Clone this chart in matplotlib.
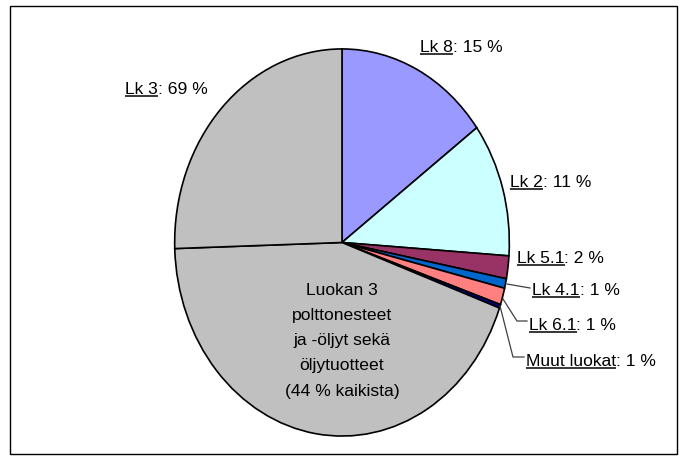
import matplotlib
matplotlib.use("Agg")
import matplotlib.pyplot as plt
from matplotlib.patches import Rectangle

plt.rcParams['font.family'] = ['Liberation Sans', 'DejaVu Sans']

# ---- data ----
categories = ['Lk 8', 'Lk 2', 'Lk 5.1', 'Lk 4.1', 'Lk 6.1', 'Muut luokat', 'Lk 3 (polttonesteet)', 'Lk 3 (muut)']
values = [14.9, 11.2, 1.9, 0.8, 1.4, 0.3, 44.0, 25.5]
colors = ['#9999FF', '#CCFFFF', '#993366', '#0066CC', '#FF8080', '#000080', '#C0C0C0', '#C0C0C0']
label_names = ['Lk 8', 'Lk 2', 'Lk 5.1', 'Lk 4.1', 'Lk 6.1', 'Muut luokat', 'Lk 3']
label_pcts = [': 15 %', ': 11 %', ': 2 %', ': 1 %', ': 1 %', ': 1 %', ': 69 %']
inner_lines = ["Luokan 3", "polttonesteet", "ja -öljyt sekä", "öljytuotteet", "(44 % kaikista)"]

W, H = 687, 464
fig = plt.figure(figsize=(W / 100, H / 100), dpi=100)
fig.patch.set_facecolor('white')

# pie axes (elliptic pie: pixel box 173..511 x 48..439)
px0, px1, py0, py1 = 173, 511, 48, 439
pax = fig.add_axes([px0 / W, 1 - py1 / H, (px1 - px0) / W, (py1 - py0) / H])
pax.pie(values, colors=colors, startangle=90, counterclock=False,
        wedgeprops=dict(edgecolor='black', linewidth=1.2))
pax.set_aspect('auto')
pax.set_xlim(-1.01, 1.01)
pax.set_ylim(-1.01, 1.01)
pax.axis('off')

# overlay axes in pixel coordinates
ax = fig.add_axes([0, 0, 1, 1], zorder=5)
ax.set_xlim(0, W)
ax.set_ylim(H, 0)
ax.axis('off')
ax.patch.set_alpha(0)

ax.add_patch(Rectangle((10, 7), 667, 448, fill=False, edgecolor='black', linewidth=1.0))

# label positions (left x, baseline y) in pixels
label_pos = [(420, 52), (510, 187), (517, 263), (532, 295), (529, 330), (526, 366), (125, 94)]
fs = 12.6

fig.canvas.draw()
renderer = fig.canvas.get_renderer()
for name, pct, (x, y) in zip(label_names, label_pcts, label_pos):
    t1 = ax.text(x, y, name, fontsize=fs, va='baseline', ha='left')
    bb = t1.get_window_extent(renderer=renderer)
    x_end = bb.x1  # display pixels == data pixels in x
    ax.text(x_end, y, pct, fontsize=fs, va='baseline', ha='left')
    ax.plot([x, x_end], [y + 2.5, y + 2.5], color='black', linewidth=1.1, solid_capstyle='butt')

# leader lines
ax.plot([507, 530], [285, 289], color='#404040', linewidth=0.9)
ax.plot([503, 517, 527], [300, 322, 322], color='#404040', linewidth=0.9)
ax.plot([500, 513, 524], [307, 358, 358], color='#404040', linewidth=0.9)

# inner label, one line at a time
inner_y = [295, 320, 345, 370, 396]
for line, yy in zip(inner_lines, inner_y):
    ax.text(342, yy, line, fontsize=fs, ha='center', va='baseline')

fig.savefig('out.png', dpi=100)
